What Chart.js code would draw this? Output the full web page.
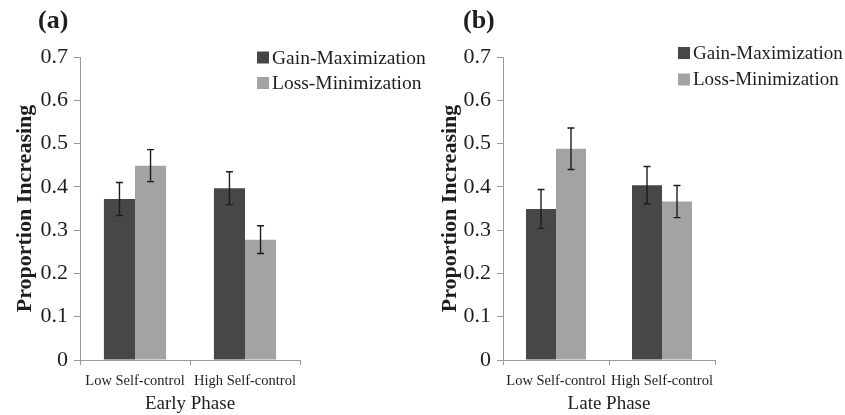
<!DOCTYPE html>
<html>
<head>
<meta charset="utf-8">
<script src="https://cdn.jsdelivr.net/npm/chart.js@4.4.1/dist/chart.umd.min.js"></script>
<style>
  html, body { margin: 0; padding: 0; background: #fff; }
  #wrap { position: relative; width: 845px; height: 415px; overflow: hidden; background: #fff; }
  canvas { position: absolute; top: 0; }
  #early { left: 0; }
  #late { left: 420px; }
</style>
</head>
<body>
<div id="wrap">
  <canvas id="early" width="440" height="415"></canvas>
  <canvas id="late" width="425" height="415"></canvas>
</div>
<script>
// Groups on the x axis
const categories = ['Low Self-control', 'High Self-control'];
const seriesNames = ['Gain-Maximization', 'Loss-Minimization'];

// Early phase: proportion increasing and standard errors
const earlyGain = [0.372, 0.397];
const earlyGainErr = [0.038, 0.038];
const earlyLoss = [0.449, 0.278];
const earlyLossErr = [0.037, 0.032];

// Late phase
const lateGain = [0.349, 0.404];
const lateGainErr = [0.045, 0.043];
const lateLoss = [0.488, 0.366];
const lateLossErr = [0.048, 0.037];

// y-axis ticks
const yTicks = [0, 0.1, 0.2, 0.3, 0.4, 0.5, 0.6, 0.7];

const DARK = '#474747';
const LIGHT = '#a3a3a3';
const AXIS = '#9a9a9a';
const TEXT = '#1e1e1e';
const SERIF = '"Liberation Serif", "Times New Roman", serif';

// Vertical error bars with caps, drawn over each bar
const errorBars = {
  id: 'errorBars',
  afterDatasetsDraw(chart) {
    const ctx = chart.ctx;
    const y = chart.scales.y;
    ctx.save();
    ctx.strokeStyle = '#1c1c1c';
    ctx.lineWidth = 1.4;
    chart.data.datasets.forEach((ds, i) => {
      const meta = chart.getDatasetMeta(i);
      meta.data.forEach((bar, j) => {
        const v = ds.data[j], e = ds.errors[j];
        const x = bar.x;
        const yHi = y.getPixelForValue(v + e);
        const yLo = y.getPixelForValue(v - e);
        ctx.beginPath();
        ctx.moveTo(x, yHi); ctx.lineTo(x, yLo);
        ctx.moveTo(x - 3.5, yHi); ctx.lineTo(x + 3.5, yHi);
        ctx.moveTo(x - 3.5, yLo); ctx.lineTo(x + 3.5, yLo);
        ctx.stroke();
      });
    });
    ctx.restore();
  }
};

// Legend with square swatches and the panel letter
const panelDecor = {
  id: 'panelDecor',
  afterDraw(chart, args, opts) {
    const ctx = chart.ctx;
    ctx.save();
    ctx.fillStyle = TEXT;
    ctx.font = 'bold 26px ' + SERIF;
    ctx.textBaseline = 'middle';
    ctx.textAlign = 'left';
    ctx.fillText(opts.letter, opts.letterX, opts.letterY);
    ctx.font = opts.legendSize + 'px ' + SERIF;
    chart.data.datasets.forEach((ds, i) => {
      const cy = opts.legendY + i * opts.legendGap;
      ctx.fillStyle = ds.backgroundColor;
      ctx.fillRect(opts.legendX, cy - 6, 12, 12);
      ctx.fillStyle = TEXT;
      ctx.fillText(ds.label, opts.legendX + 15, cy + 1);
    });
    ctx.restore();
  }
};

function makePanel(canvasId, gain, gainErr, loss, lossErr, phase, cfg) {
  return new Chart(document.getElementById(canvasId), {
    type: 'bar',
    data: {
      labels: categories,
      datasets: [
        { label: seriesNames[0], data: gain, errors: gainErr, backgroundColor: DARK },
        { label: seriesNames[1], data: loss, errors: lossErr, backgroundColor: LIGHT }
      ]
    },
    options: {
      responsive: false,
      animation: false,
      events: [],
      layout: { padding: { left: 0, right: cfg.padRight, top: 57, bottom: 0 } },
      datasets: { bar: { categoryPercentage: cfg.catPct, barPercentage: 1.0, borderWidth: 0 } },
      plugins: {
        legend: { display: false },
        tooltip: { enabled: false },
        panelDecor: cfg.decor
      },
      scales: {
        x: {
          type: 'category',
          offset: true,
          afterFit(scale) { scale.height = 55; },
          border: { display: true, color: AXIS, width: 1 },
          grid: { display: true, drawOnChartArea: false, drawTicks: true, tickLength: 5, color: AXIS, offset: true },
          ticks: { color: TEXT, font: { family: SERIF, size: 14.5 }, padding: 7, maxRotation: 0, autoSkip: false },
          title: { display: true, text: phase, color: TEXT, font: { family: SERIF, size: 19 }, padding: { top: 0, bottom: 0 } }
        },
        y: {
          min: 0, max: 0.7,
          afterFit(scale) { scale.width = cfg.yWidth; },
          afterBuildTicks(scale) { scale.ticks = yTicks.map(v => ({ value: v })); },
          border: { display: true, color: AXIS, width: 1 },
          grid: { display: true, drawOnChartArea: false, drawTicks: true, tickLength: 6, color: AXIS },
          ticks: {
            color: TEXT, font: { family: SERIF, size: 22 }, padding: 6,
            callback: v => (v === 0 ? '0' : v.toFixed(1))
          },
          title: {
            display: true, text: 'Proportion Increasing', color: TEXT,
            font: { family: SERIF, size: 22, weight: 'bold' },
            padding: { top: cfg.yTitlePad, bottom: 0 }
          }
        }
      }
    },
    plugins: [errorBars, panelDecor]
  });
}

makePanel('early', earlyGain, earlyGainErr, earlyLoss, earlyLossErr, 'Early Phase', {
  padRight: 140, yWidth: 80, catPct: 0.565, yTitlePad: 12,
  decor: { letter: '(a)', letterX: 38, letterY: 21, legendX: 257, legendY: 57.5, legendGap: 25.5, legendSize: 19.5 }
});

makePanel('late', lateGain, lateGainErr, lateLoss, lateLossErr, 'Late Phase', {
  padRight: 130, yWidth: 83, catPct: 0.566, yTitlePad: 17,
  decor: { letter: '(b)', letterX: 43, letterY: 21, legendX: 258, legendY: 53, legendGap: 26.5, legendSize: 19 }
});
</script>
</body>
</html>
